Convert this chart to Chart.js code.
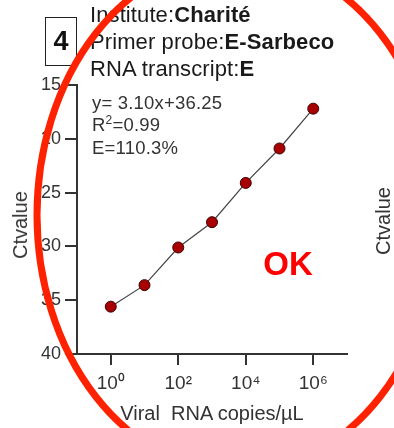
<!DOCTYPE html>
<html>
<head>
<meta charset="utf-8">
<script src="https://cdn.jsdelivr.net/npm/chart.js@4.4.1/dist/chart.umd.min.js"></script>
<style>
  html, body { margin: 0; padding: 0; background: #fff; }
  #wrap { position: relative; width: 394px; height: 428px; overflow: hidden; font-family: "Liberation Sans", Arial, sans-serif; color: #222; }
  #c { position: absolute; left: 0; top: 0; }
  .t { position: absolute; white-space: pre; }
  .title { left: 90px; font-size: 22px; line-height: 27px; color: #1a1a1a; letter-spacing: 0.1px; }
  .title b { font-weight: bold; }
  #box { position: absolute; left: 45px; top: 17px; width: 30px; height: 47px; border: 1.5px solid #222; font-weight: bold; font-size: 27px; line-height: 47px; text-align: center; color: #111; }
  .eq { left: 92px; font-size: 18.5px; line-height: 22px; color: #333; letter-spacing: 0.2px; }
  .eq sup { font-size: 12px; line-height: 0; vertical-align: 7px; }
  .ytitle { font-size: 20px; color: #333; transform: translate(-50%, -50%) rotate(-90deg); line-height: 20px; }
  #xtitle { left: 212px; top: 413px; font-size: 20px; color: #333; transform: translate(-50%, -50%); line-height: 20px; }
  #ok { left: 288px; top: 263px; font-size: 33px; font-weight: bold; color: #ff0000; transform: translate(-50%, -50%); line-height: 33px; }
  svg { position: absolute; left: 0; top: 0; }
</style>
</head>
<body>
<div id="wrap">
  <canvas id="c" width="394" height="428"></canvas>
  <div id="box">4</div>
  <div class="t title" style="top:1px">Institute:<b>Charité</b></div>
  <div class="t title" style="top:28px">Primer probe:<b>E-Sarbeco</b></div>
  <div class="t title" style="top:55px">RNA transcript:<b>E</b></div>
  <div class="t eq" style="top:92px">y= 3.10x+36.25</div>
  <div class="t eq" style="top:114px">R<sup>2</sup>=0.99</div>
  <div class="t eq" style="top:137px">E=110.3%</div>
  <div class="t ytitle" style="left:20px; top:225px">Ctvalue</div>
  <div class="t ytitle" style="left:383px; top:221px">Ctvalue</div>
  <div class="t" id="xtitle">Viral  RNA copies/µL</div>
  <div class="t" id="ok">OK</div>
  <svg width="394" height="428" viewBox="0 0 394 428">
    <ellipse cx="238" cy="215" rx="201" ry="257" fill="none" stroke="#ff2200" stroke-width="7"/>
  </svg>
</div>
<script>
// Data
const copies = [1, 10, 100, 1000, 10000, 100000, 1000000];
const ctValues = [35.6, 33.6, 30.1, 27.75, 24.1, 20.9, 17.2];
const xTickValues = [1, 100, 10000, 1000000];
const yTickValues = [15, 20, 25, 30, 35, 40];

const sup = {'0':'⁰','1':'¹','2':'²','3':'³','4':'⁴','5':'⁵','6':'⁶','7':'⁷','8':'⁸','9':'⁹','-':'⁻'};
function pow10Label(v) {
  const e = Math.round(Math.log10(v)).toString();
  return '10' + e.split('').map(ch => sup[ch]).join('');
}

const axisColor = '#333';
new Chart(document.getElementById('c'), {
  type: 'line',
  data: {
    datasets: [{
      data: copies.map((x, i) => ({ x: x, y: ctValues[i] })),
      borderColor: '#444',
      borderWidth: 1.2,
      backgroundColor: '#a80000',
      pointBackgroundColor: '#a80000',
      pointBorderColor: '#3a0000',
      pointBorderWidth: 1,
      pointRadius: 5.5,
      tension: 0,
      fill: false
    }]
  },
  options: {
    responsive: false,
    animation: false,
    devicePixelRatio: 1,
    layout: { padding: { top: 85, right: 47, left: 0, bottom: 0 } },
    plugins: { legend: { display: false }, tooltip: { enabled: false } },
    scales: {
      x: {
        type: 'logarithmic',
        min: 0.1,
        max: 10000000,
        afterBuildTicks: (s) => { s.ticks = xTickValues.map(v => ({ value: v })); },
        afterFit: (s) => { s.height = 74; },
        ticks: {
          callback: (v) => pow10Label(v),
          color: axisColor,
          font: { family: '"Liberation Sans", Arial, sans-serif', size: 19 },
          padding: 7,
          maxRotation: 0,
          autoSkip: false
        },
        grid: { drawOnChartArea: false, color: axisColor, lineWidth: 2, tickLength: 11 },
        border: { display: true, color: axisColor, width: 2 }
      },
      y: {
        type: 'linear',
        reverse: true,
        min: 15,
        max: 40,
        afterBuildTicks: (s) => { s.ticks = yTickValues.map(v => ({ value: v })); },
        afterFit: (s) => { s.width = 77; },
        ticks: {
          color: axisColor,
          font: { family: '"Liberation Sans", Arial, sans-serif', size: 18 },
          padding: 4
        },
        grid: { drawOnChartArea: false, color: axisColor, lineWidth: 2, tickLength: 12 },
        border: { display: true, color: axisColor, width: 2 }
      }
    }
  }
});
</script>
</body>
</html>
